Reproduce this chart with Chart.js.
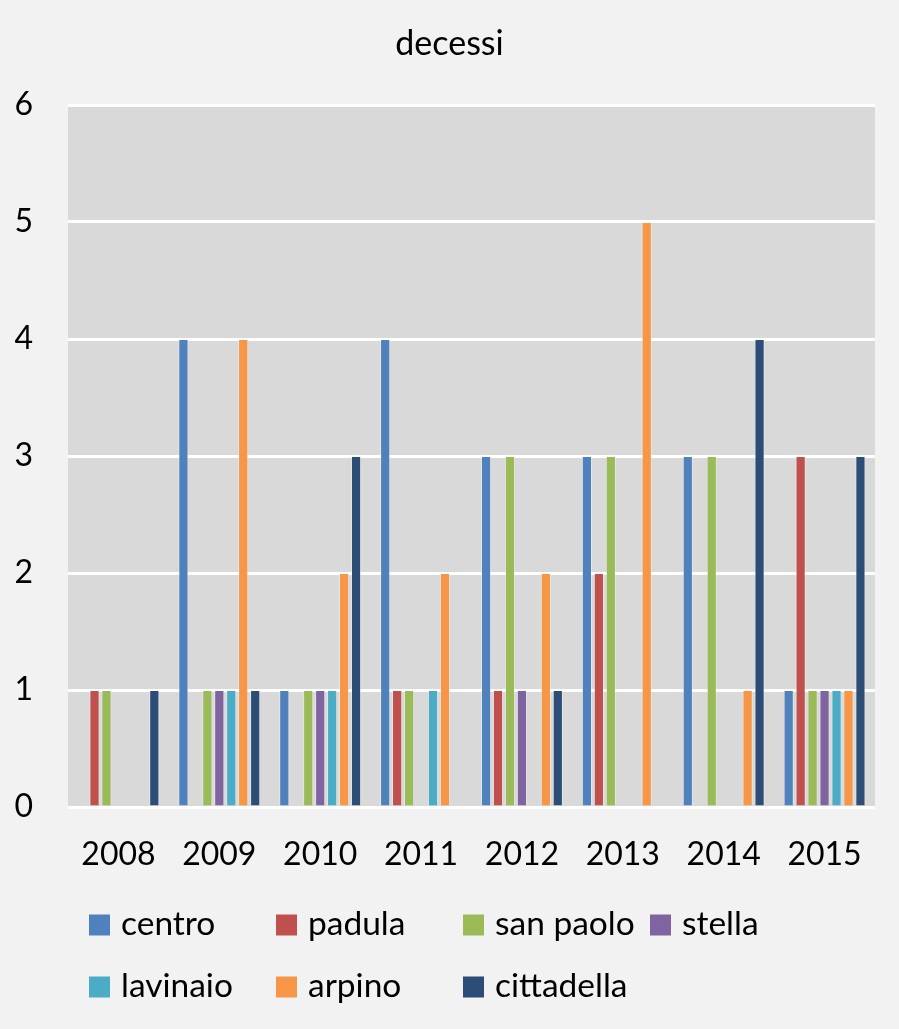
<!DOCTYPE html>
<html>
<head>
<meta charset="utf-8">
<script src="https://cdn.jsdelivr.net/npm/chart.js@4/dist/chart.umd.min.js"></script>
<style>
  html, body { margin: 0; padding: 0; background: #f2f2f2; }
  #wrap { width: 899px; height: 1029px; position: relative; }
</style>
</head>
<body>
<div id="wrap"><canvas id="chart"></canvas></div>
<script>
  // data
  var years = ["2008", "2009", "2010", "2011", "2012", "2013", "2014", "2015"];
  var centro     = [0, 4, 1, 4, 3, 3, 3, 1];
  var padula     = [1, 0, 0, 1, 1, 2, 0, 3];
  var sanPaolo   = [1, 1, 1, 1, 3, 3, 3, 1];
  var stella     = [0, 1, 1, 0, 1, 0, 0, 1];
  var lavinaio   = [0, 1, 1, 1, 0, 0, 0, 1];
  var arpino     = [0, 4, 2, 2, 2, 5, 1, 1];
  var cittadella = [1, 1, 3, 0, 1, 0, 4, 3];
  var yTicks = [0, 1, 2, 3, 4, 5, 6];
  var titleText = "decessi";

  var FONT = "Lato, 'Open Sans', sans-serif";

  function ds(label, data, color) {
    return {
      label: label,
      data: data,
      backgroundColor: color,
      borderColor: "rgba(255,255,255,0.35)",
      borderWidth: 1,
      categoryPercentage: 0.83,
      barPercentage: 0.85
    };
  }

  // grey plot area
  var plotBg = {
    id: "plotBg",
    beforeDraw: function (chart) {
      var a = chart.chartArea, ctx = chart.ctx;
      ctx.save();
      ctx.fillStyle = "#f2f2f2";
      ctx.fillRect(0, 0, chart.width, chart.height);
      ctx.fillStyle = "#d9d9d9";
      ctx.fillRect(a.left, a.top, a.right - a.left, a.bottom - a.top);
      ctx.restore();
    }
  };

  // title centred on the whole picture, legend in a fixed 4-column grid
  var titleAndLegend = {
    id: "titleAndLegend",
    afterDraw: function (chart) {
      var ctx = chart.ctx;
      var sets = chart.data.datasets;
      ctx.save();
      ctx.fillStyle = "#000";
      ctx.font = "34px " + FONT;
      ctx.textAlign = "center";
      ctx.textBaseline = "alphabetic";
      ctx.fillText(titleText, chart.width / 2, 55);

      ctx.font = "33.5px " + FONT;
      ctx.textAlign = "left";
      ctx.textBaseline = "middle";
      for (var i = 0; i < sets.length; i++) {
        var col = i % 4, row = Math.floor(i / 4);
        var x = 89 + col * 187;
        var y = 925 + row * 62;
        ctx.fillStyle = sets[i].backgroundColor;
        ctx.fillRect(x, y - 10.5, 21, 21);
        ctx.fillStyle = "#000";
        ctx.fillText(sets[i].label, x + 32, y - 1);
      }
      ctx.restore();
    }
  };

  var chart = new Chart(document.getElementById("chart"), {
    type: "bar",
    data: {
      labels: years,
      datasets: [
        ds("centro", centro, "#4f81bd"),
        ds("padula", padula, "#c0504d"),
        ds("san paolo", sanPaolo, "#9bbb59"),
        ds("stella", stella, "#8064a2"),
        ds("lavinaio", lavinaio, "#4bacc6"),
        ds("arpino", arpino, "#f79646"),
        ds("cittadella", cittadella, "#2c4d75")
      ]
    },
    options: {
      responsive: true,
      maintainAspectRatio: false,
      animation: false,
      layout: { padding: { left: 0, right: 24, top: 105, bottom: 152 } },
      plugins: {
        legend: { display: false },
        tooltip: { enabled: false },
        title: { display: false }
      },
      scales: {
        x: {
          grid: { display: false, drawTicks: false },
          border: { display: false },
          ticks: { color: "#000", padding: 28, font: { family: FONT, size: 32 } },
          afterFit: function (s) { s.height = 70; }
        },
        y: {
          min: 0,
          max: 6,
          afterBuildTicks: function (s) {
            s.ticks = yTicks.map(function (v) { return { value: v }; });
          },
          grid: { color: "#ffffff", lineWidth: 3, drawTicks: false },
          border: { display: false },
          ticks: { color: "#000", padding: 35, font: { family: FONT, size: 32 } },
          afterFit: function (s) { s.width = 68; }
        }
      }
    },
    plugins: [plotBg, titleAndLegend]
  });
</script>
</body>
</html>
